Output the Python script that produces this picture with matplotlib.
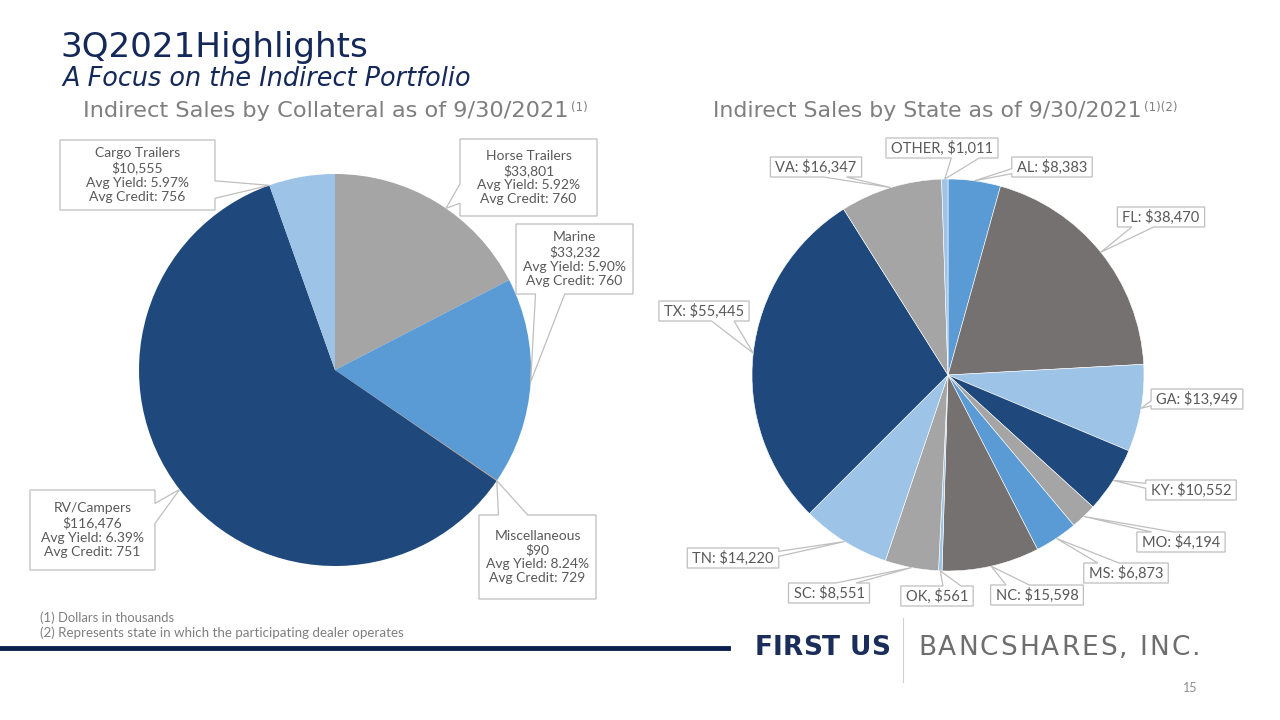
import numpy as np
import matplotlib
matplotlib.use("Agg")
import matplotlib.pyplot as plt
from matplotlib.patches import Polygon

plt.rcParams['font.family'] = ['Lato', 'DejaVu Sans']

# collateral data (dollars in thousands)
coll_names = ['Horse Trailers', 'Marine', 'Miscellaneous', 'RV/Campers', 'Cargo Trailers']
coll_values = [33801, 33232, 90, 116476, 10555]
coll_yield = [5.92, 5.90, 8.24, 6.39, 5.97]
coll_credit = [760, 760, 729, 751, 756]
coll_colors = ['#A5A5A5', '#5B9BD5', '#ED7D31', '#1F497D', '#9DC3E6']

# state data
state_names = ['AL', 'FL', 'GA', 'KY', 'MO', 'MS', 'NC', 'OK', 'SC', 'TN', 'TX', 'VA', 'OTHER']
state_values = [8383, 38470, 13949, 10552, 4194, 6873, 15598, 561, 8551, 14220, 55445, 16347, 1011]
state_colors = ['#5B9BD5', '#767171', '#9DC3E6', '#1F497D', '#A5A5A5', '#5B9BD5', '#767171',
                '#9DC3E6', '#A5A5A5', '#9DC3E6', '#1F497D', '#A5A5A5', '#9DC3E6']

W, H = 1280, 720
fig = plt.figure(figsize=(12.8, 7.2), dpi=100)
fig.patch.set_facecolor('white')
renderer = fig.canvas.get_renderer()


def fx(x):
    return x / W


def fy(y):
    return 1 - y / H


def pie_axes(cx, cy, r):
    return fig.add_axes([fx(cx - r), fy(cy + r), 2 * r / W, 2 * r / H])


def fit_text(x, y, s, width, **kw):
    # left-aligned text scaled to span `width` pixels
    t = fig.text(fx(x), fy(y), s, fontsize=10, va='center', ha='left', **kw)
    w = t.get_window_extent(renderer).width
    t.set_fontsize(10 * width / w)
    return t


def tracked_text(x, y, s, width, fontsize, **kw):
    # characters spread out so the word spans `width` pixels
    probe = fig.text(0, 0, s, fontsize=fontsize, **kw)
    full = probe.get_window_extent(renderer).width
    probe.remove()
    q = fig.text(0, 0, '|', fontsize=fontsize, **kw)
    bar = q.get_window_extent(renderer).width
    q.remove()
    pre = [0.0]
    for i in range(1, len(s)):
        p = fig.text(0, 0, s[:i] + '|', fontsize=fontsize, **kw)
        pre.append(p.get_window_extent(renderer).width - bar)
        p.remove()
    track = (width - full) / (len(s) - 1)
    for i, ch in enumerate(s):
        fig.text(fx(x + pre[i] + i * track), fy(y), ch, fontsize=fontsize, va='center', ha='left', **kw)


grey_line = '#BFBFBF'
label_col = '#595959'


def callout(box, px, py):
    # rectangle with a wedge tail pointing at (px, py), all in pixels from top-left
    x0, y0, x1, y1 = box
    w, h = x1 - x0, y1 - y0
    cx, cy = (x0 + x1) / 2, (y0 + y1) / 2
    dx, dy = (px - cx) / w, (py - cy) / h
    tl, tr, br, bl = (x0, y0), (x1, y0), (x1, y1), (x0, y1)
    if abs(dx) > abs(dy):
        fa, fb = (7 / 12, 10 / 12) if dy > 0 else (2 / 12, 5 / 12)
        ya, yb = y0 + h * fa, y0 + h * fb
        if dx < 0:
            pts = [tl, tr, br, bl, (x0, yb), (px, py), (x0, ya)]
        else:
            pts = [tl, tr, (x1, ya), (px, py), (x1, yb), br, bl]
    else:
        fa, fb = (7 / 12, 10 / 12) if dx > 0 else (2 / 12, 5 / 12)
        xa, xb = x0 + w * fa, x0 + w * fb
        if dy < 0:
            pts = [tl, (xa, y0), (px, py), (xb, y0), tr, br, bl]
        else:
            pts = [tl, tr, br, (xb, y1), (px, py), (xa, y1), bl]
    fig.add_artist(Polygon([(fx(a), fy(b)) for a, b in pts], closed=True, fc='none',
                           ec=grey_line, lw=0.9, transform=fig.transFigure))


# label boxes (pixels from top-left: x0, y0, x1, y1)
coll_boxes = [(460, 139, 597, 216), (516, 224, 633, 294), (479, 515, 596, 599),
              (30, 490, 155, 570), (60, 140, 215, 210)]
# where along each slice's arc (clockwise, 0 = start) the callout points
coll_anchor = [0.55, 0.5, 0.5, 0.5, 0.0]
state_label_pos = [(1052, 167), (1161, 217), (1197, 399), (1191, 490), (1181, 542), (1126, 573),
                   (1037, 595), (937, 596), (829, 593), (733, 558), (704, 311), (816, 167), (942, 148)]

# ---- left pie
cx1, cy1, r1 = 335, 370, 196
ax1 = pie_axes(cx1, cy1, r1)
wedges1, _ = ax1.pie(coll_values, colors=coll_colors, startangle=90, counterclock=False,
                     radius=1, wedgeprops=dict(linewidth=0))
ax1.set_xlim(-1, 1)
ax1.set_ylim(-1, 1)
for w, name, v, yl, cr, box, fr in zip(wedges1, coll_names, coll_values, coll_yield,
                                      coll_credit, coll_boxes, coll_anchor):
    # clockwise pie: theta2 is where the slice starts
    a = np.deg2rad(w.theta2 + (w.theta1 - w.theta2) * fr)
    callout(box, cx1 + r1 * np.cos(a), cy1 - r1 * np.sin(a))
    x0, y0, x1, y1 = box
    txt = f'{name}\n${v:,}\nAvg Yield: {yl:.2f}%\nAvg Credit: {cr}'
    fig.text(fx((x0 + x1) / 2), fy((y0 + y1) / 2), txt, ha='center', va='center', fontsize=10,
             color=label_col, linespacing=1.2)

# ---- right pie
cx2, cy2, r2 = 948, 375, 196
ax2 = pie_axes(cx2, cy2, r2)
wedges2, _ = ax2.pie(state_values, colors=state_colors, startangle=90, counterclock=False,
                     radius=1, wedgeprops=dict(linewidth=0.4, edgecolor='white'))
ax2.set_xlim(-1, 1)
ax2.set_ylim(-1, 1)
for w, name, v, pos in zip(wedges2, state_names, state_values, state_label_pos):
    a = np.deg2rad((w.theta1 + w.theta2) / 2)
    sep = ',' if name in ('OTHER', 'OK') else ':'
    t = fig.text(fx(pos[0]), fy(pos[1]), f'{name}{sep} ${v:,}', ha='center', va='center',
                 fontsize=10.5, color=label_col)
    tw = t.get_window_extent(renderer).width
    box = (pos[0] - tw / 2 - 5, pos[1] - 10, pos[0] + tw / 2 + 5, pos[1] + 10)
    callout(box, cx2 + r2 * np.cos(a), cy2 - r2 * np.sin(a))

# ---- titles
navy = '#14285A'
fit_text(60, 47, '3Q2021Highlights', 306, color=navy, family=['DejaVu Sans'])
fit_text(62, 79, 'A Focus on the Indirect Portfolio', 408, color=navy, style='italic',
         family=['DejaVu Sans'])


def heading(x, y, s, width, sup):
    t = fit_text(x, y, s, width, color='#7F7F7F', family=['DejaVu Sans'])
    bb = t.get_window_extent(renderer)
    fig.text(bb.x1 / W + 0.002, fy(y - 4), sup, fontsize=8.5, color='#7F7F7F',
             va='center', ha='left', family=['DejaVu Sans'])


heading(83, 111, 'Indirect Sales by Collateral as of 9/30/2021', 485, '(1)')
heading(713, 111, 'Indirect Sales by State as of 9/30/2021', 428, '(1)(2)')

# ---- footnotes
fit_text(40, 618, '(1) Dollars in thousands', 134, color='#7F7F7F')
fit_text(40, 633, '(2) Represents state in which the participating dealer operates', 365,
         color='#7F7F7F')

# ---- footer bar and logo
fig.add_artist(plt.Line2D([0, fx(728)], [fy(648), fy(648)], color='#0B1F4F', lw=3.5))
fig.add_artist(plt.Line2D([fx(903), fx(903)], [fy(618), fy(682)], color='#D0D0D0', lw=0.8))
tracked_text(755, 648, 'FIRST US', 135, 19, fontweight='bold', color='#1B2E5A',
             family=['DejaVu Sans'])
tracked_text(918, 648, 'BANCSHARES, INC.', 282, 19, color='#6E6E6E', family=['DejaVu Sans'])
fig.text(fx(1190), fy(688), '15', fontsize=9, color='#8C8C8C', va='center', ha='center')

fig.savefig('out.png', dpi=100, facecolor='white')
